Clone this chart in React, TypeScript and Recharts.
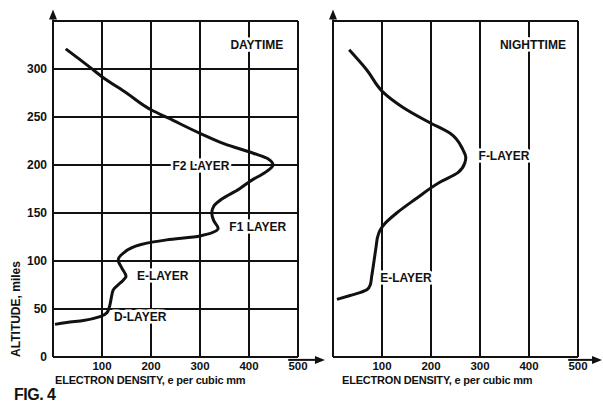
import React from 'react';
import {
  LineChart,
  Line,
  XAxis,
  YAxis,
  CartesianGrid,
  ReferenceLine,
  ReferenceDot,
  Label,
} from 'recharts';

const densityTicks = [0, 100, 200, 300, 400, 500];
const altitudeTicks = [0, 50, 100, 150, 200, 250, 300, 350];

// daytime profile (altitude in miles, density in e / cubic mm)
const dayAltitude = [34, 36, 38, 42, 46, 52, 59, 70, 77, 84, 93, 101, 108, 117, 122, 126, 134, 142, 150, 157, 164, 175, 184, 192, 200, 206, 212, 222, 233, 249, 257, 275, 292, 302, 321];
const dayDensity = [4, 28, 62, 96, 110, 115, 118, 123, 137, 149, 140, 133, 143, 178, 232, 300, 337, 328, 324, 328, 343, 380, 405, 432, 449, 440, 410, 350, 300, 235, 202, 150, 100, 75, 26];

// nighttime profile, right panel
const nightAltitude = [60, 64, 67, 70, 75, 84, 101, 115, 125, 132, 139, 150, 164, 182, 192, 202, 208, 216, 233, 244, 260, 276, 299, 320];
const nightDensity = [8, 35, 55, 69, 76, 79, 84, 88, 91, 96, 106, 130, 167, 218, 255, 269, 271, 265, 239, 198, 143, 102, 69, 33];

const dayNotes = [
  { text: 'DAYTIME', density: 416, altitude: 325 },
  { text: 'F2 LAYER', density: 302, altitude: 199 },
  { text: 'F1 LAYER', density: 418, altitude: 135 },
  { text: 'E-LAYER', density: 224, altitude: 84 },
  { text: 'D-LAYER', density: 178, altitude: 42 },
];

const nightNotes = [
  { text: 'NIGHTTIME', density: 408, altitude: 325 },
  { text: 'F-LAYER', density: 349, altitude: 209 },
  { text: 'E-LAYER', density: 149, altitude: 82 },
];

const font = '"Liberation Sans", Arial, Helvetica, sans-serif';
const ink = '#111';

const toRows = (alt: number[], den: number[]) =>
  alt.map((a, i) => ({ altitude: a, density: den[i] }));

const dayData = toRows(dayAltitude, dayDensity);
const nightData = toRows(nightAltitude, nightDensity);

function Arrow(props: any) {
  const { x1, y1, x2, y2 } = props;
  const dx = x2 - x1;
  const dy = y2 - y1;
  const len = Math.hypot(dx, dy) || 1;
  const ux = dx / len;
  const uy = dy / len;
  const bx = x2 - ux * 10;
  const by = y2 - uy * 10;
  return (
    <g>
      <line x1={x1} y1={y1} x2={bx} y2={by} stroke={ink} strokeWidth={2} />
      <polygon
        points={`${x2},${y2} ${bx - uy * 4},${by + ux * 4} ${bx + uy * 4},${by - ux * 4}`}
        fill={ink}
      />
    </g>
  );
}

function Note(props: any) {
  const { cx, cy, text } = props;
  return (
    <text
      x={cx}
      y={cy}
      textAnchor="middle"
      dominantBaseline="central"
      fontFamily={font}
      fontWeight={700}
      fontSize={12}
      fill={ink}
      stroke="#fff"
      strokeWidth={5}
      paintOrder="stroke"
    >
      {text}
    </text>
  );
}

const yTickStyle = { fill: ink, fontSize: 12, fontWeight: 700, fontFamily: font };
const xTickStyle = { fill: ink, fontSize: 11.5, fontWeight: 700, fontFamily: font };

interface PanelProps {
  data: { altitude: number; density: number }[];
  notes: { text: string; density: number; altitude: number }[];
  width: number;
  left: number;
  margin: { top: number; right: number; left: number; bottom: number };
  showAltitude: boolean;
  titleDx: number;
  arrowTo: number;
}

function Panel({ data, notes, width, left, margin, showAltitude, titleDx, arrowTo }: PanelProps) {
  return (
    <div style={{ position: 'absolute', left, top: 0 }}>
      <LineChart width={width} height={403} data={data} margin={margin}>
        <CartesianGrid stroke={ink} strokeWidth={2} />
        <XAxis
          dataKey="density"
          type="number"
          domain={[0, 500]}
          ticks={densityTicks}
          tickFormatter={(v) => (v === 0 ? '' : String(v))}
          tick={xTickStyle}
          tickLine={false}
          tickSize={6}
          tickMargin={-1}
          axisLine={{ stroke: ink, strokeWidth: 2 }}
          height={30}
        >
          <Label
            content={(p: any) => (
              <text
                x={p.viewBox.x + titleDx}
                y={p.viewBox.y + 26.5}
                fontFamily={font}
                fontWeight={700}
                fontSize={11}
                letterSpacing={-0.2}
                fill={ink}
              >
                ELECTRON DENSITY, e per cubic mm
              </text>
            )}
          />
        </XAxis>
        <YAxis
          dataKey="altitude"
          type="number"
          domain={[0, 350]}
          ticks={altitudeTicks}
          tickFormatter={(v) => (v === 350 || !showAltitude ? '' : String(v))}
          tick={showAltitude ? yTickStyle : false}
          tickLine={false}
          tickSize={4}
          tickMargin={2}
          axisLine={{ stroke: ink, strokeWidth: 2 }}
          width={showAltitude ? 45 : 0}
        >
          {showAltitude && (
            <Label
              content={(p: any) => {
                const x = p.viewBox.x + 8;
                const y = p.viewBox.y + p.viewBox.height - 48;
                return (
                  <text
                    x={x}
                    y={y}
                    transform={`rotate(-90, ${x}, ${y})`}
                    textAnchor="middle"
                    dominantBaseline="central"
                    fontFamily={font}
                    fontWeight={700}
                    fontSize={12}
                    fill={ink}
                  >
                    ALTITUDE, miles
                  </text>
                );
              }}
            />
          )}
        </YAxis>
        <ReferenceLine
          segment={[{ x: 0, y: 340 }, { x: 0, y: 362 }]}
          ifOverflow="visible"
          shape={(p: any) => <Arrow {...p} />}
        />
        <ReferenceLine
          segment={[{ x: 480, y: -3 }, { x: arrowTo, y: -3 }]}
          ifOverflow="visible"
          shape={(p: any) => <Arrow {...p} />}
        />
        <Line
          type="monotoneY"
          dataKey="altitude"
          stroke={ink}
          strokeWidth={3}
          dot={false}
          isAnimationActive={false}
        />
        {notes.map((n) => (
          <ReferenceDot
            key={n.text}
            x={n.density}
            y={n.altitude}
            r={0}
            ifOverflow="visible"
            shape={(p: any) => <Note {...p} text={n.text} />}
          />
        ))}
      </LineChart>
    </div>
  );
}

export default function App() {
  return (
    <div style={{ position: 'absolute', left: 0, top: 0, width: 603, height: 403, background: '#fff' }}>
      <Panel
        data={dayData}
        notes={dayNotes}
        width={330}
        left={0}
        margin={{ top: 21, right: 32, left: 8, bottom: 16 }}
        showAltitude
        titleDx={2}
        arrowTo={555}
      />
      <Panel
        data={nightData}
        notes={nightNotes}
        width={303}
        left={300}
        margin={{ top: 21, right: 25, left: 33, bottom: 16 }}
        showAltitude={false}
        titleDx={9}
        arrowTo={549}
      />
      <div
        style={{
          position: 'absolute',
          left: 14,
          top: 387,
          fontFamily: font,
          fontWeight: 700,
          fontSize: 16,
          lineHeight: '16px',
          letterSpacing: -0.5,
          color: ink,
        }}
      >
        FIG. 4
      </div>
    </div>
  );
}
